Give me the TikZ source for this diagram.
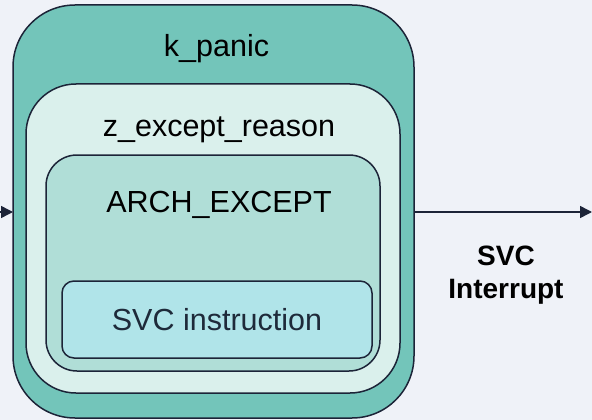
\documentclass[tikz,border=0pt]{standalone}
\usepackage{fontspec}
\setmainfont{Liberation Sans}
\usetikzlibrary{arrows.meta}
\definecolor{bgc}{HTML}{EFF2F8}
\definecolor{strokec}{HTML}{1C2438}
\definecolor{outerc}{HTML}{73C5BA}
\definecolor{reasonc}{HTML}{DAF0EC}
\definecolor{archc}{HTML}{B0DED7}
\definecolor{svcc}{HTML}{B0E4E9}
\definecolor{svctext}{HTML}{1E2A3A}
\tikzset{
  layer/.style={draw=strokec, line width=1.5pt, inner sep=0pt, outer sep=0pt, rectangle},
  lbl/.style={anchor=base, inner sep=0pt, font=\fontsize{30.5}{36}\selectfont},
  conn/.style={draw=strokec, line width=1.5pt, -{Triangle[length=12pt,width=12pt]}}
}
\begin{document}
\begin{tikzpicture}[x=1pt,y=-1pt]
\fill[bgc] (0,0) rectangle (592,420);
\useasboundingbox (0,0) rectangle (592,420);
\node[layer, fill=outerc, rounded corners=62pt, minimum width=401pt, minimum height=413pt] (kpanic) at (213.5,211.5) {};
\node[layer, fill=reasonc, rounded corners=50pt, minimum width=374pt, minimum height=309pt] (reason) at (213,238.5) {};
\node[layer, fill=archc, rounded corners=31pt, minimum width=334pt, minimum height=216pt] (arch) at (213,263) {};
\node[layer, fill=svcc, rounded corners=12pt, minimum width=310pt, minimum height=77pt] (svc) at (217,319.5) {};
\node[lbl] (tk) at (216.5,57) {k\_panic};
\node[lbl] (tr) at (219,136.5) {z\_except\_reason};
\node[lbl] (ta) at (219,212) {ARCH\_EXCEPT};
\node[lbl, text=svctext] (ts) at (217,330) {SVC instruction};
\node[anchor=base, inner sep=0pt, align=center, font=\bfseries\fontsize{28}{33}\selectfont] (ti) at (506,298) {SVC\\Interrupt};
\coordinate (lin) at (0,212);
\coordinate (rout) at (592,212);
\draw[conn] (lin) -- (kpanic.west |- lin);
\draw[conn] (kpanic.east |- rout) -- (rout);
\end{tikzpicture}
\end{document}
